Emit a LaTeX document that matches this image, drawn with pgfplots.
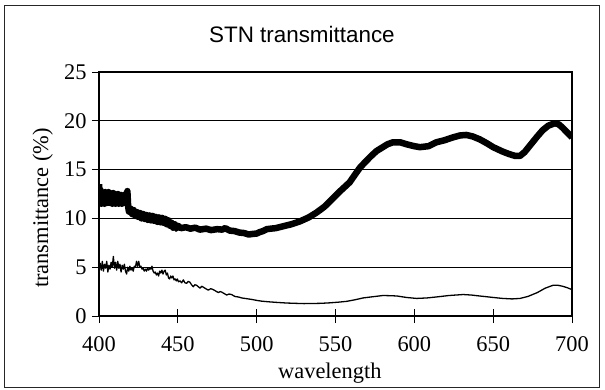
\documentclass[border=0pt]{standalone}
\usepackage{pgfplots}
\pgfplotsset{compat=1.18}
\usepackage{fontspec}
\setmainfont{Liberation Serif}
\newfontfamily\arialfont{Liberation Sans}
\begin{document}
\begin{tikzpicture}
\begin{axis}[
  scale only axis, width=473bp, height=244bp,
  xmin=400, xmax=700, ymin=0, ymax=25,
  xtick={400,450,...,700}, ytick={0,5,...,25},
  xtick pos=bottom, ytick pos=left,
  ymajorgrids, grid style={black, line width=0.7bp},
  axis line style={black, line width=1.2bp},
  tick style={black, line width=0.9bp},
  tick align=center, major tick length=14bp,
  /pgf/number format/assume math mode=true,
  ticklabel style={font=\fontsize{22.5}{26}\selectfont},
  xticklabel style={yshift=-10bp},
  yticklabel style={xshift=-2bp},
  label style={font=\fontsize{22.5}{26}\selectfont},
  xlabel={wavelength},
  xlabel style={at={(rel axis cs:0.488,-0.258)}, anchor=base},
  ylabel={transmittance (\%)},
  ylabel style={at={(rel axis cs:-0.1078,0.4426)}, anchor=base},
  clip mode=individual,
]
% thin series
\addplot[black, line width=1.3bp, line join=round] coordinates {
(400,5.0)(400.7,5.4)(401.4,4.7)(402.1,5.6)(402.8,4.6)(403.5,5.3)(404.2,4.9)(404.9,5.6)(405.6,4.5)(406.3,5.2)(407,4.8)(407.7,5.5)(408.4,5.0)(409.1,6.1)(409.8,4.9)(410.5,5.5)(411.2,4.7)(411.9,5.6)(412.6,4.9)(413.3,5.3)(414,4.5)(414.7,5.2)(415.4,4.8)(416.1,5.3)(416.8,4.6)(417.5,4.3)(418.2,5.0)(418.9,4.6)(419.6,5.1)(420.3,4.7)(421,4.9)(421.7,4.6)(422.4,5.1)(423.1,5.0)(423.8,5.6)(424.5,5.1)(425.2,5.6)(425.9,5.0)(426.6,5.1)(427.3,4.8)(428,4.9)(428.7,4.6)(429.4,4.8)(430.1,4.6)(430.8,4.9)(431.5,4.7)(432.2,4.9)(432.9,4.8)(433.6,5.1)(434.3,4.6)(435,4.4)(435.7,4.5)(436.4,4.2)(437.1,4.4)(437.8,4.1)(438.5,4.6)(439.2,4.4)(439.9,4.7)(440.6,4.3)(441.3,4.6)(442,4.7)(442.7,4.2)(443.4,4.4)(444.1,3.9)(444.8,3.8)(445.5,4.1)(446.2,3.9)(446.9,4.1)(447.6,3.7)(448.3,3.8)(449,3.6)(449.7,3.8)(450.4,3.5)(451.4,3.6)(452.4,3.4)(453.5,3.7)(454.5,3.4)(455.6,3.35)(456.6,3.55)(457.7,3.45)(458.7,3.2)(459.8,3.0)(460.8,3.2)(461.9,3.15)(463,3.0)(464.1,2.85)(465.2,3.05)(466.2,2.95)(467.7,2.8)(469.3,2.65)(470.9,2.8)(472.5,2.7)(474.1,2.55)(475.7,2.4)(476.8,2.5)(477.8,2.45)(479.4,2.3)(481,2.15)(482.5,2.25)(484.1,2.2)(486.2,2.0)(488.4,1.95)(490.5,1.85)(492.6,1.8)(494.7,1.75)(496.8,1.7)(500,1.6)(503.2,1.52)(508,1.45)(514,1.38)(519,1.33)(524,1.3)(530,1.27)(535,1.28)(541,1.3)(546.5,1.35)(552,1.42)(557,1.5)(562,1.65)(567.5,1.85)(575,2.0)(580,2.1)(585,2.08)(589,2.05)(595,1.9)(601.5,1.8)(608,1.85)(614,1.95)(622,2.1)(631,2.2)(636,2.15)(641.5,2.05)(650,1.9)(656,1.8)(662,1.75)(667,1.8)(672,2.0)(678,2.4)(683,2.85)(688,3.15)(691,3.15)(694,3.05)(697,2.9)(700,2.7)
};
% thick series
\addplot[black, line width=6.5bp, line join=round] coordinates {
(400,13.5)(400.5,11.6)(401,12.9)(401.5,11.5)(402,12.7)(402.5,11.6)(403,12.6)(403.5,11.5)(404,12.7)(404.5,11.7)(405,12.5)(405.5,11.6)(406,12.7)(406.5,11.6)(407,12.6)(407.5,11.7)(408,12.5)(408.5,11.5)(409,12.6)(409.5,11.6)(410,12.5)(410.5,11.5)(411,12.4)(411.5,11.6)(412,12.5)(412.5,11.5)(413,12.3)(413.5,11.6)(414,12.4)(414.5,11.5)(415,12.3)(415.5,11.6)(416,12.4)(416.5,11.6)(417,12.5)(417.5,11.7)(418,12.8)(418.5,11.2)(419,10.7)(420,11.0)(421,10.45)(422,10.85)(423,10.25)(424,10.65)(425,10.15)(426,10.55)(427,10.0)(428,10.45)(429,9.95)(430,10.35)(431,9.85)(432,10.3)(433,9.8)(434,10.25)(435,9.75)(436,10.15)(437,9.65)(438,10.1)(439,9.6)(440,10.05)(441,9.55)(442,9.95)(443,9.4)(444,9.8)(445,9.25)(446,9.55)(447,9.05)(448,9.4)(449,8.95)(450,9.25)(452,9.0)(455,9.1)(458,8.95)(461,9.05)(464,8.85)(468,8.95)(471,8.8)(475,8.9)(478,8.85)(480,9.0)(483,8.75)(486,8.7)(489,8.55)(492,8.5)(495,8.35)(497,8.4)(500,8.45)(502,8.6)(504,8.7)(506.5,8.9)(509,8.95)(512,9.0)(517,9.2)(522,9.4)(527.5,9.7)(533,10.1)(538,10.6)(543,11.2)(548,12.0)(553,12.8)(559,13.7)(562,14.4)(565.5,15.2)(569,15.8)(572,16.3)(576,16.9)(580,17.3)(583,17.6)(586.5,17.8)(591,17.8)(595,17.6)(600,17.4)(603.5,17.3)(609,17.4)(614,17.8)(619,18.0)(624.5,18.3)(629,18.5)(633,18.55)(637,18.4)(641.5,18.1)(646,17.7)(650,17.3)(656,16.85)(660,16.6)(664,16.4)(667,16.4)(670,16.8)(672.5,17.3)(675,17.8)(678,18.4)(681.5,19.05)(685,19.5)(689,19.75)(691.5,19.65)(694,19.3)(697,18.8)(700,18.3)
};
\node[font=\arialfont\fontsize{22.5}{26}\selectfont, anchor=base] at (rel axis cs:0.429,1.119) {STN transmittance};
\draw[black!85, line width=1bp] (rel axis cs:-0.2008,-0.291) rectangle (rel axis cs:1.0592,1.2746);
\path (rel axis cs:-0.2093,-0.2992) rectangle (rel axis cs:1.0698,1.2951);
\end{axis}
\end{tikzpicture}
\end{document}
